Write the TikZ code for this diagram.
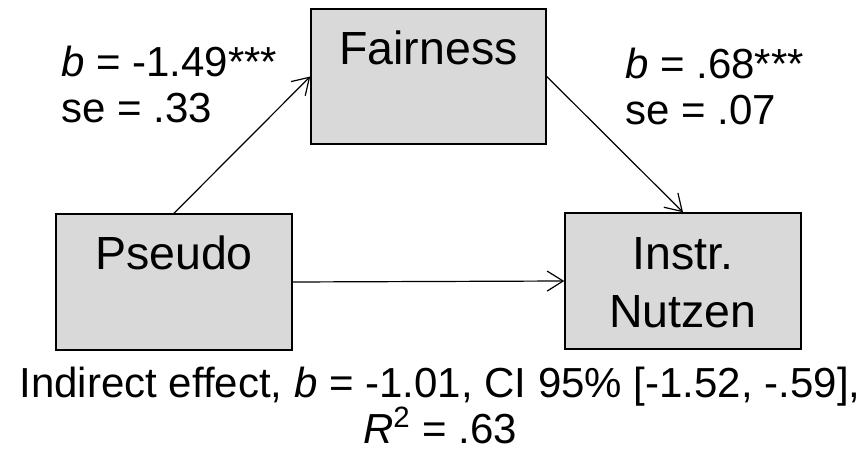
\documentclass[tikz,border=0pt]{standalone}
\usepackage{fontspec}
\setmainfont{Liberation Sans}
\usetikzlibrary{arrows.meta}
\definecolor{boxgray}{HTML}{D9D9D9}
\tikzset{
  varbox/.style={draw=black, line width=0.75pt, fill=boxgray, minimum width=118pt, minimum height=68pt, inner sep=0pt},
  vartext/.style={font=\fontsize{23.25}{29}\selectfont, align=center, inner sep=0pt},
  coeftext/.style={font=\fontsize{21}{23}\selectfont, align=left, inner sep=0pt},
  effectline/.style={draw, line width=0.6pt, -{Straight Barb[length=8pt,width=10pt]}}
}
\begin{document}
\begin{tikzpicture}[x=0.5pt,y=-0.5pt]
\useasboundingbox (0,0) rectangle (868,460);
% variables
\node[varbox, minimum width=117.5pt, minimum height=67.5pt] (fair) at (428.5,76.5) {};
\node[varbox] (pseudo) at (174,282) {};
\node[varbox] (nutzen) at (683,281) {};
\node[vartext, anchor=base] (fairtext) at (428.5,65) {Fairness};
\node[vartext, anchor=base] (pseudotext) at (174,270) {Pseudo};
\node[vartext, anchor=base] (nutzentext) at (683,327) {Instr.\\Nutzen};
% paths
\draw[effectline] (pseudo.north) -- (fair.west);
\draw[effectline] (fair.east) -- (nutzen.north);
\draw[effectline] (pseudo.east) -- (nutzen.west);
% coefficients
\node[coeftext, anchor=base west] (coefa) at (61,123) {\textit{b} = -1.49***\\se = .33};
\node[coeftext, anchor=base west] (coefb) at (625,125) {\textit{b} = .68***\\se = .07};
\node[coeftext, align=center, anchor=base] (indirect) at (440,443) {Indirect effect, \textit{b} = -1.01, CI 95\% [-1.52, -.59],\\\textit{R}\textsuperscript{2} = .63};
\end{tikzpicture}
\end{document}
